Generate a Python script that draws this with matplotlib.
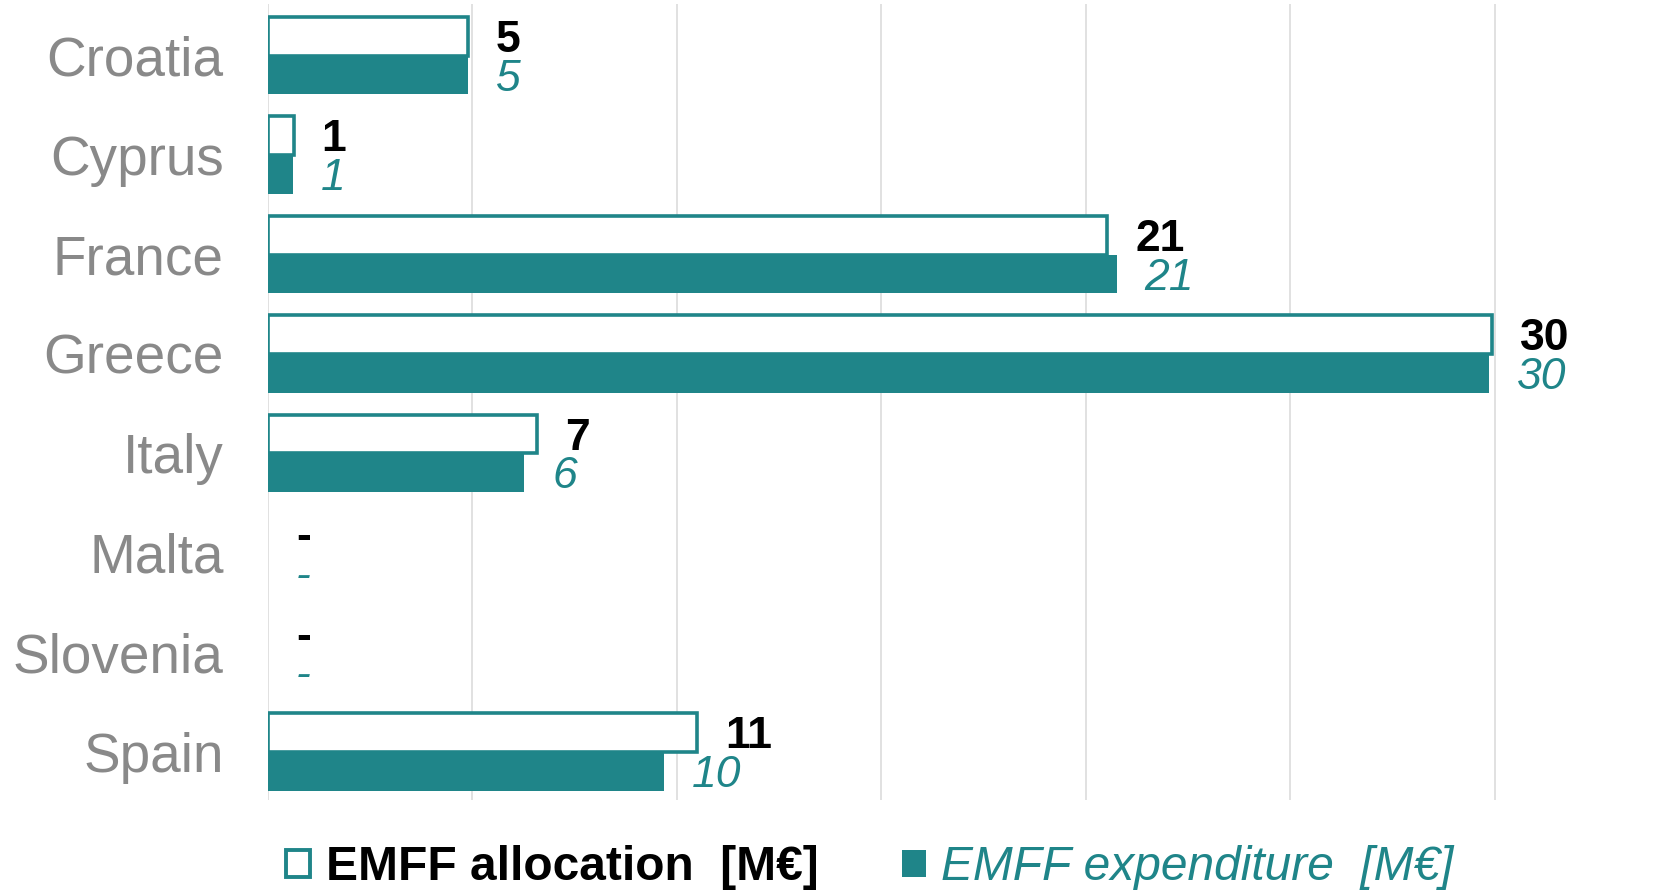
import numpy as np
import matplotlib
matplotlib.use('Agg')
import matplotlib.pyplot as plt
from matplotlib.patches import Patch

plt.rcParams['font.family'] = ['Liberation Sans', 'DejaVu Sans']

# Datos (M EUR)
countries = ['Croatia', 'Cyprus', 'France', 'Greece', 'Italy', 'Malta',
             'Slovenia', 'Spain']
allocation = [4.88, 0.63, 20.52, 29.93, 6.58, 0, 0, 10.5]
expenditure = [4.9, 0.62, 20.75, 29.85, 6.27, 0, 0, 9.68]
legend_labels = ['EMFF allocation  [M€]', 'EMFF expenditure  [M€]']

teal = '#1f8589'
grey = '#898989'

def etiqueta(v):
    if v == 0:
        return '-'
    return str(int(v + 0.5))

fig = plt.figure(figsize=(16.78, 8.92), dpi=100)
ax = fig.add_axes([268 / 1678, 92 / 892, 1 - 268 / 1678, 796 / 892])

y = np.arange(len(countries))
h = 0.39
lw_a = [2.6 if v > 0 else 0 for v in allocation]
bars_a = ax.barh(y - h / 2, allocation, height=h, color='white',
                 edgecolor=teal, linewidth=lw_a, zorder=2)
bars_e = ax.barh(y + h / 2, expenditure, height=h, color=teal,
                 edgecolor='none', zorder=3)

for yy, v in zip(y, allocation):
    ax.annotate(etiqueta(v), xy=(v, yy - h / 2), xytext=(20, -3),
                textcoords='offset points', ha='left', va='center',
                fontsize=32, fontweight='bold', color='black')
for yy, v in zip(y, expenditure):
    ax.annotate(etiqueta(v), xy=(v, yy + h / 2), xytext=(20, -3),
                textcoords='offset points', ha='left', va='center',
                fontsize=32, fontstyle='italic', color=teal)

ax.set_xlim(0, (1678 - 268) / 40.9)
ax.set_ylim(7.485, -0.519)
ax.set_xticks(np.arange(0, 35, 5))
ax.set_xticklabels([])
ax.set_yticks(y)
ax.set_yticklabels(countries, fontsize=39.5, color=grey)
ax.tick_params(axis='both', length=0)
ax.tick_params(axis='y', pad=32)
ax.grid(axis='x', color='#d9d9d9', linewidth=1.1)
ax.set_axisbelow(True)
for s in ax.spines.values():
    s.set_visible(False)

handles = [Patch(facecolor='white', edgecolor=teal, linewidth=2.8),
           Patch(facecolor=teal, edgecolor='none')]
leg = fig.legend(handles, legend_labels, loc='center', ncol=2,
                 bbox_to_anchor=(870 / 1678, 24 / 892), frameon=False,
                 fontsize=34.5, handlelength=0.5, handleheight=0.5,
                 handletextpad=0.32, columnspacing=1.75, borderpad=0,
                 borderaxespad=0)
txt = leg.get_texts()
txt[0].set_fontweight('bold')
txt[0].set_color('black')
txt[1].set_fontstyle('italic')
txt[1].set_color(teal)

plt.savefig('out.png', dpi=100)
